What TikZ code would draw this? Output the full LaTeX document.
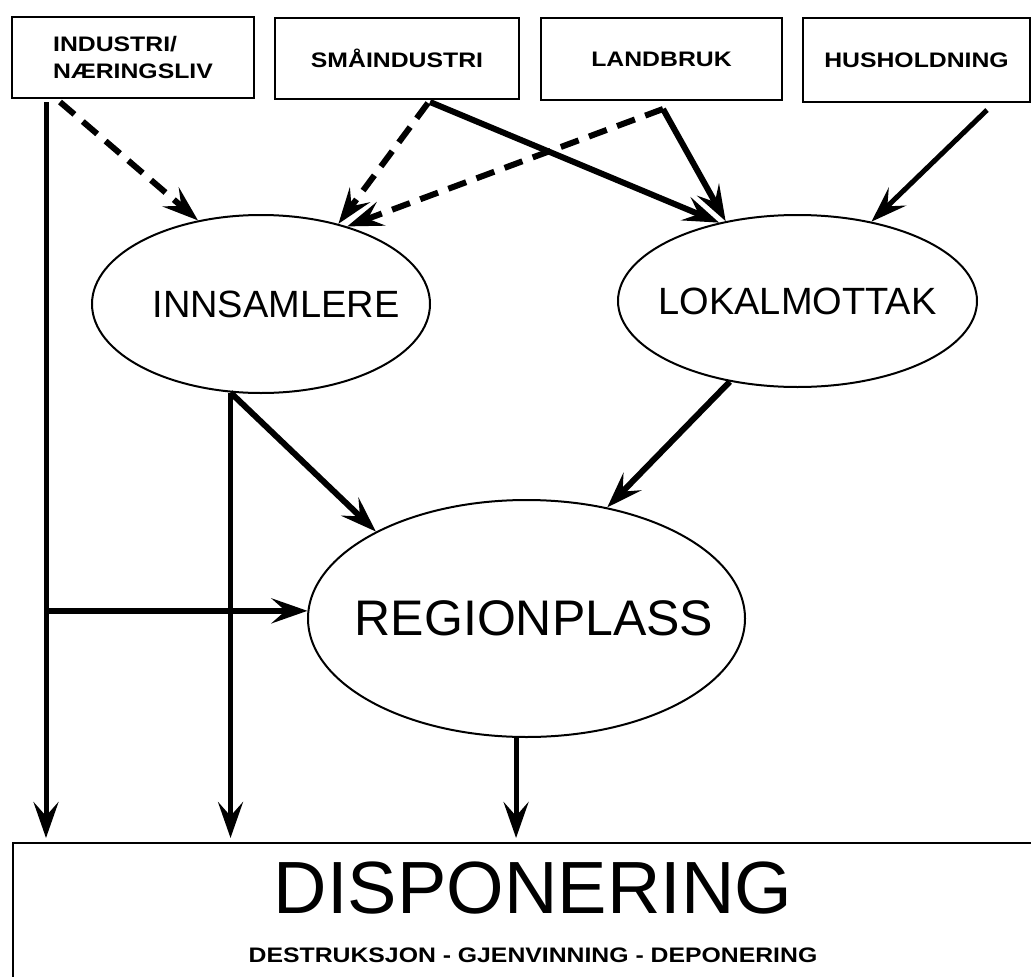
\documentclass[tikz,border=0pt]{standalone}
\usepackage{fontspec}
\setmainfont{Liberation Sans}
\newfontfamily\boxfont[FakeStretch=1.18]{Liberation Sans Bold}
\usetikzlibrary{arrows.meta,shapes.geometric}
\begin{document}
\begin{tikzpicture}[x=1pt,y=-1pt,
  srcbox/.style={draw, line width=2pt, rectangle, anchor=north west, inner sep=0pt,
    minimum height=81pt, font={\boxfont\fontsize{21}{27}\selectfont}},
  oval/.style={draw, ellipse, line width=2pt, inner sep=0pt},
  tip/.style={-{Stealth[length=36pt,width=25pt,inset=14pt]}},
  flow/.style={line width=6pt, tip},
  dflow/.style={flow, dash pattern=on 19pt off 11pt},
  trunk/.style={line width=5pt, tip, shorten >=4pt}]
\useasboundingbox (0,0) rectangle (1031,977);
\fill[white] (0,0) rectangle (1031,977);

% source boxes
\node[srcbox, minimum width=242pt, align=left] (ind) at (11,16) {INDUSTRI/\\NÆRINGSLIV};
\node[srcbox, minimum width=244pt] (sma) at (274,17) {SMÅINDUSTRI};
\node[srcbox, minimum width=241pt, minimum height=82pt] (land) at (540,17) {LANDBRUK};
\node[srcbox, minimum width=227pt, minimum height=84pt] (hus) at (802,17) {HUSHOLDNING};

% ellipses
\node[oval, minimum width=338pt, minimum height=178pt, font=\fontsize{38}{40}\selectfont]
  (inn) at (261,304) {\makebox[0pt]{\hspace*{30pt}INNSAMLERE}};
\node[oval, minimum width=359pt, minimum height=172pt, font=\fontsize{38}{40}\selectfont]
  (lok) at (797.5,301) {\makebox[0pt]{LOKALMOTTAK}};
\node[oval, minimum width=437pt, minimum height=237pt, font=\fontsize{50}{52}\selectfont]
  (reg) at (526.5,618.5) {\makebox[0pt]{\hspace*{15pt}REGIONPLASS}};

% disposal box
\node[draw, line width=2pt, rectangle, anchor=north west, inner sep=0pt,
  minimum width=1040pt, minimum height=160pt] (disp) at (12,842) {};
\node[anchor=base, font=\fontsize{74}{76}\selectfont] (dispt)
  at ([yshift=-71pt]disp.north) {DISPONERING};
\node[anchor=base, font={\boxfont\fontsize{21}{24}\selectfont}] (dsub)
  at ([yshift=-120pt]disp.north) {DESTRUKSJON - GJENVINNING - DEPONERING};

% connectors
\coordinate (lv) at ([xshift=35pt,yshift=-3pt]ind.south west);
\draw[trunk] (lv) -- (lv |- disp.north);
\draw[flow] (lv |- reg.178) -- (reg.178);

\draw[dflow] ([xshift=49pt,yshift=-3pt]ind.south west) -- (inn.127);
\draw[dflow] ([xshift=154pt,yshift=-3pt]sma.south west) -- (inn.46);
\draw[flow] ([xshift=156pt,yshift=-2pt]sma.south west) -- (lok.135);
\draw[dflow] ([xshift=123pt,yshift=-8pt]land.south west) -- (inn.42);
\draw[flow] ([xshift=123pt,yshift=-8pt]land.south west) -- (lok.132);
\draw[flow, line width=5pt] ([xshift=185pt,yshift=-7pt]hus.south west) -- (lok.47);

\draw[trunk] (inn.251) -- (inn.251 |- disp.north);
\draw[flow] (inn.251) -- (reg.150);
\draw[flow] (lok.230) -- (reg.54);
\draw[trunk] (reg.265) -- (reg.265 |- disp.north);
\end{tikzpicture}
\end{document}
